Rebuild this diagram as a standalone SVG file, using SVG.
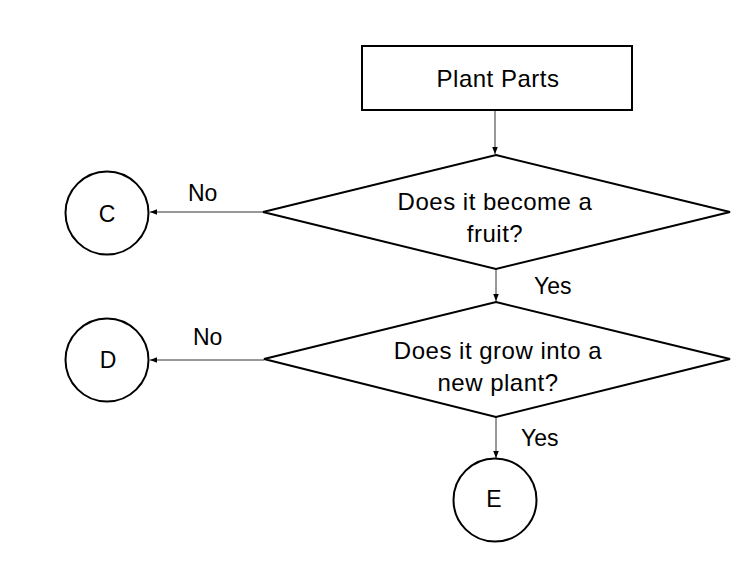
<svg xmlns="http://www.w3.org/2000/svg" width="749" height="571" viewBox="0 0 749 571">
  <style>
    .shape { fill: #ffffff; stroke: #000000; stroke-width: 2; }
    .conn { fill: none; stroke: #333333; stroke-width: 1; }
    text { font-family: "Liberation Sans", Arial, sans-serif; font-size: 23px; fill: #000000; }
    .c { text-anchor: middle; }
    .wide { font-size: 24px; letter-spacing: 0.5px; }
  </style>
  <defs>
    <marker id="arrow" viewBox="0 0 10 10" refX="10" refY="5" markerWidth="7" markerHeight="7" markerUnits="userSpaceOnUse" orient="auto">
      <path d="M0,1 L10,5 L0,9 Z" fill="#000000"/>
    </marker>
  </defs>
  <rect width="749" height="571" fill="#ffffff"/>
  <g id="connectors">
    <line class="conn" x1="495" y1="110" x2="495" y2="154" marker-end="url(#arrow)"/>
    <line class="conn" x1="263" y1="212" x2="150" y2="212" marker-end="url(#arrow)"/>
    <line class="conn" x1="496" y1="269" x2="496" y2="301" marker-end="url(#arrow)"/>
    <line class="conn" x1="264" y1="360" x2="150" y2="360" marker-end="url(#arrow)"/>
    <line class="conn" x1="496" y1="417" x2="496" y2="458" marker-end="url(#arrow)"/>
    <text x="188" y="201">No</text>
    <text x="193" y="345">No</text>
    <text x="534" y="294">Yes</text>
    <text x="521" y="446">Yes</text>
  </g>
  <g id="plant-parts">
    <rect class="shape" x="362" y="46" width="270" height="64"/>
    <text class="c wide" x="498" y="87">Plant Parts</text>
  </g>
  <g id="q-fruit">
    <polygon class="shape" points="496,155 730,212 496,269 263,212"/>
    <text class="c wide" x="495" y="210">Does it become a</text>
    <text class="c wide" x="495" y="242">fruit?</text>
  </g>
  <g id="q-plant">
    <polygon class="shape" points="496,302 730,359 496,417 264,359"/>
    <text class="c wide" x="498" y="359">Does it grow into a</text>
    <text class="c wide" x="498" y="391">new plant?</text>
  </g>
  <g id="c">
    <circle class="shape" cx="107" cy="213" r="41.5"/>
    <text class="c" x="107" y="222">C</text>
  </g>
  <g id="d">
    <circle class="shape" cx="107" cy="360" r="41.5"/>
    <text class="c" x="108" y="368">D</text>
  </g>
  <g id="e">
    <circle class="shape" cx="495" cy="500" r="41.5"/>
    <text class="c" x="494" y="507">E</text>
  </g>
</svg>
